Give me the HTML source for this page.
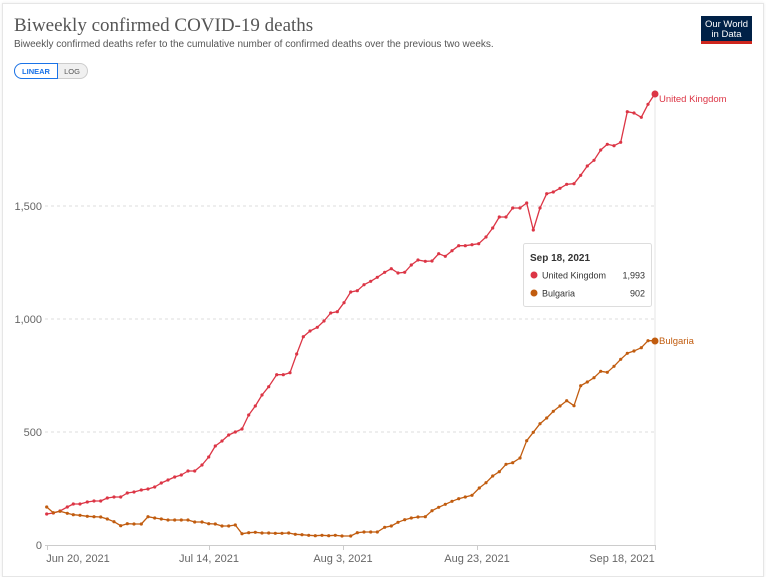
<!DOCTYPE html>
<html><head><meta charset="utf-8"><style>
body{margin:0;background:#fff;width:766px;height:572px;overflow:hidden;font-family:"Liberation Sans",sans-serif;}
.card{position:absolute;left:2px;top:3px;width:760px;height:572px;border:1px solid #e6e6e6;box-shadow:0 0 3px rgba(0,0,0,0.08);}
</style></head><body>
<div class="card"></div>
<svg width="766" height="572" style="position:absolute;left:0;top:0">
<text x="14" y="31" font-family="Liberation Serif,serif" font-size="19" fill="#555">Biweekly confirmed COVID-19 deaths</text>
<text x="14" y="47" font-size="10" fill="#555">Biweekly confirmed deaths refer to the cumulative number of confirmed deaths over the previous two weeks.</text>
<rect x="14.5" y="63.5" width="73" height="15" rx="7.5" fill="#f0f0f0" stroke="#ccc"/>
<path d="M22 63.5 H57.5 V78.5 H22 A7.5 7.5 0 0 1 22 63.5Z" fill="#fff" stroke="#1a73e8"/>
<text x="36" y="74" font-size="7.5" font-weight="bold" fill="#1a73e8" text-anchor="middle">LINEAR</text>
<text x="72" y="74" font-size="7.5" fill="#555" text-anchor="middle">LOG</text>
<rect x="701" y="16" width="51" height="28" fill="#002147"/>
<rect x="701" y="41" width="51" height="3" fill="#ce261e"/>
<text x="726.5" y="27" font-size="9.5" fill="#fff" text-anchor="middle">Our World</text>
<text x="726.5" y="37" font-size="9.5" fill="#fff" text-anchor="middle">in Data</text>
<g stroke="#ddd" stroke-dasharray="3,3"><line x1="45" y1="206" x2="655" y2="206"/><line x1="45" y1="319" x2="655" y2="319"/><line x1="45" y1="432" x2="655" y2="432"/></g>
<line x1="655" y1="90" x2="655" y2="545" stroke="#e4e4e4"/>
<line x1="45" y1="545.5" x2="656" y2="545.5" stroke="#ccc"/>
<g stroke="#ccc"><line x1="47.5" y1="545" x2="47.5" y2="550"/><line x1="209.5" y1="545" x2="209.5" y2="550"/><line x1="343.5" y1="545" x2="343.5" y2="550"/><line x1="477.5" y1="545" x2="477.5" y2="550"/><line x1="655.5" y1="545" x2="655.5" y2="550"/></g>
<g font-size="11" fill="#666" text-anchor="end"><text x="42" y="210">1,500</text><text x="42" y="323">1,000</text><text x="42" y="436">500</text><text x="42" y="549">0</text></g>
<g font-size="11" fill="#666" text-anchor="middle"><text x="78" y="562">Jun 20, 2021</text><text x="209" y="562">Jul 14, 2021</text><text x="343" y="562">Aug 3, 2021</text><text x="477" y="562">Aug 23, 2021</text><text x="622" y="562">Sep 18, 2021</text></g>
<polyline id="uk" fill="none" stroke="#dc3545" stroke-width="1.3" stroke-linejoin="round" points="46.7,514 53.3,513 60,511 67.3,507 73.3,504 80,504 87.3,502 94,501 100.7,501 107.3,498 114,497 120.7,497 127.3,493 134,492 141.3,490 148,489 154.7,487 161.3,483 168,480 174.7,477 181.3,475 188,471 194.7,471 202,465 208.7,457 215.3,446 222,441 228.7,435 235.3,432 242,429 248.7,415 255.3,406 262,395 268.7,386.7 276.7,374.7 283.3,374.7 290,372.7 296.7,354 303.3,336.7 310,331 317.3,327.3 324,321 330.7,313 337.3,311.7 344,302.7 350.7,292 357.3,290.7 364,284.7 370.7,281.3 377.3,277.3 384.7,272.3 391.3,268.7 398,273 404.7,272.3 411.3,265 418,260 425.3,261.3 432,261 438.7,253.7 445.3,256.3 452,250.7 458.7,245.7 465.3,245.7 472,244.7 478.7,243.7 486,237 492.7,228 499.3,217 506,217 512.7,208 520,208 526.7,203 533.3,230 540,208 546.7,193.7 553.3,192 560,188.3 566.7,184.3 574,183.7 580.7,175.3 587.3,166 594,160.3 600.7,150 607.3,144.3 614,145.7 620.7,142.3 627.3,111.7 634,113 641.3,117.3 648,104.3 654.7,94"/>
<polyline id="bg" fill="none" stroke="#c15c0f" stroke-width="1.3" stroke-linejoin="round" points="46.7,507 53.3,512.7 60,511.3 67.3,513.3 73.3,514.7 80,515.3 87.3,516.3 94,516.7 100.7,517 107.3,519 114,521.7 120.7,525.7 127.3,523.7 134,524 141.3,524 148,516.7 154.7,518 161.3,519 168,520 174.7,520 181.3,520 188,520 194.7,522 202,522 208.7,523.7 215.3,524 222,526 228.7,526 235.3,525 242,533.7 248.7,532.7 255.3,532.3 262,533 268.7,533 275.3,533.3 282,533.3 288.7,533 295.3,534.3 302,534.7 308.7,535.3 315.3,535.7 322,535.3 328.7,535.7 335.3,535.3 342,536 350.7,536 357.3,532.7 364,532 370.7,532 377.3,532 384.7,527.3 391.3,526 398,522.3 404.7,519.7 411.3,518 418,517 425.3,516.7 432,510.7 438.7,507.3 445.3,504.3 452,501.3 458.7,498.7 465.3,497 472,495.3 479.3,488 486,482.7 492.7,476 499.3,471.7 506,464.3 512.7,462.7 520,458 526.7,440.7 533.3,432.3 540,423.7 546.7,418 553.3,411.3 560,406 566.7,400.7 574,405.7 580.7,385.7 587.3,382 594,377.7 600.7,371.3 607.3,372.3 614,366.3 620.7,359.3 627.3,353.3 634,351 641.3,347.7 648,340.7 654.7,340.7"/>
<g id="dots"></g>
<circle cx="655" cy="94" r="3.5" fill="#dc3545"/>
<circle cx="655" cy="341" r="3.5" fill="#c15c0f"/>
<text x="659" y="102" font-size="9.5" fill="#dc3545">United Kingdom</text>
<text x="659" y="344" font-size="9.5" fill="#c15c0f">Bulgaria</text>
<rect x="523.5" y="243.5" width="128" height="63" fill="#fff" stroke="#ddd" rx="2"/>
<text x="530" y="261" font-size="10" font-weight="bold" fill="#333">Sep 18, 2021</text>
<circle cx="534" cy="275" r="3.5" fill="#dc3545"/>
<text x="542" y="278.5" font-size="9" fill="#333">United Kingdom</text>
<text x="645" y="278.5" font-size="9" fill="#333" text-anchor="end">1,993</text>
<circle cx="534" cy="293" r="3.5" fill="#c15c0f"/>
<text x="542" y="296.5" font-size="9" fill="#333">Bulgaria</text>
<text x="645" y="296.5" font-size="9" fill="#333" text-anchor="end">902</text>
</svg>
<script>
var ns="http://www.w3.org/2000/svg",g=document.getElementById("dots");
[["uk","#dc3545"],["bg","#c15c0f"]].forEach(function(s){
document.getElementById(s[0]).getAttribute("points").trim().split(/\s+/).forEach(function(p){
var a=p.split(","),c=document.createElementNS(ns,"circle");
c.setAttribute("cx",a[0]);c.setAttribute("cy",a[1]);c.setAttribute("r","1.6");c.setAttribute("fill",s[1]);g.appendChild(c);});});
</script>
</body></html>
